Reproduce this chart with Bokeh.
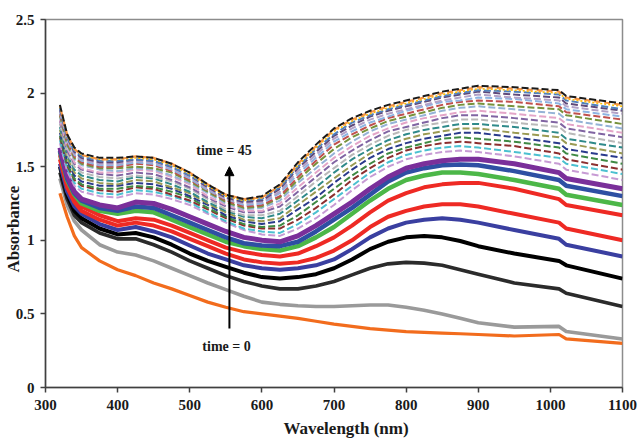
from bokeh.plotting import figure
from bokeh.models import FixedTicker, Label, Arrow, NormalHead, Title
from bokeh.embed import file_html
from bokeh.resources import INLINE

# ---------------- data ----------------
wavelength = [320, 330, 340, 350, 375, 400, 425, 450, 475, 500, 525, 550, 575, 600, 625,
              650, 675, 700, 725, 750, 775, 800, 825, 850, 875, 900, 950, 1012, 1022, 1100]

x_ticks = [300, 400, 500, 600, 700, 800, 900, 1000, 1100]
y_ticks = [0, 0.5, 1, 1.5, 2, 2.5]
y_tick_labels = ["0", "0.5", "1", "1.5", "2", "2.5"]

# solid curves (early times), bottom to top
abs_orange = [1.32, 1.16, 1.03, 0.95, 0.86, 0.80, 0.76, 0.71, 0.67, 0.625, 0.58, 0.545, 0.515, 0.50, 0.485,
              0.47, 0.45, 0.43, 0.415, 0.40, 0.39, 0.38, 0.375, 0.37, 0.365, 0.36, 0.35, 0.36, 0.33, 0.30]
abs_grey = [1.42, 1.24, 1.13, 1.07, 0.97, 0.92, 0.90, 0.86, 0.81, 0.76, 0.71, 0.665, 0.62, 0.58, 0.565,
            0.555, 0.55, 0.55, 0.555, 0.56, 0.56, 0.545, 0.525, 0.50, 0.47, 0.44, 0.41, 0.415, 0.38, 0.33]
abs_darkgrey = [1.46, 1.28, 1.17, 1.12, 1.05, 1.01, 1.01, 0.97, 0.92, 0.86, 0.81, 0.76, 0.72, 0.69, 0.67,
                0.67, 0.69, 0.72, 0.765, 0.81, 0.84, 0.85, 0.845, 0.83, 0.80, 0.77, 0.71, 0.67, 0.64, 0.55]
abs_black = [1.50, 1.31, 1.20, 1.15, 1.08, 1.04, 1.05, 1.02, 0.97, 0.91, 0.86, 0.82, 0.78, 0.75, 0.74,
             0.75, 0.77, 0.81, 0.87, 0.94, 0.99, 1.02, 1.03, 1.02, 0.995, 0.96, 0.91, 0.86, 0.83, 0.74]
abs_blue2 = [1.52, 1.33, 1.23, 1.18, 1.11, 1.07, 1.09, 1.06, 1.02, 0.965, 0.91, 0.87, 0.83, 0.81, 0.80,
             0.81, 0.83, 0.87, 0.94, 1.02, 1.08, 1.12, 1.14, 1.15, 1.14, 1.12, 1.07, 1.01, 0.97, 0.89]
abs_red2 = [1.55, 1.36, 1.26, 1.20, 1.14, 1.10, 1.12, 1.10, 1.06, 1.01, 0.96, 0.91, 0.87, 0.85, 0.84,
            0.85, 0.88, 0.93, 1.00, 1.09, 1.16, 1.20, 1.23, 1.245, 1.245, 1.23, 1.18, 1.12, 1.08, 1.00]
abs_red1 = [1.58, 1.39, 1.29, 1.23, 1.17, 1.13, 1.15, 1.14, 1.10, 1.05, 1.00, 0.95, 0.92, 0.90, 0.89,
            0.91, 0.96, 1.02, 1.10, 1.19, 1.27, 1.32, 1.36, 1.38, 1.39, 1.39, 1.35, 1.28, 1.24, 1.17]
abs_green = [1.60, 1.41, 1.31, 1.25, 1.20, 1.18, 1.20, 1.19, 1.14, 1.09, 1.04, 0.99, 0.96, 0.94, 0.93,
             0.96, 1.02, 1.09, 1.18, 1.27, 1.35, 1.41, 1.44, 1.46, 1.46, 1.45, 1.41, 1.35, 1.31, 1.24]
abs_blue1 = [1.61, 1.42, 1.32, 1.27, 1.22, 1.20, 1.23, 1.22, 1.17, 1.12, 1.07, 1.02, 0.98, 0.965, 0.96,
             0.99, 1.06, 1.14, 1.22, 1.31, 1.40, 1.46, 1.49, 1.51, 1.515, 1.51, 1.47, 1.41, 1.37, 1.30]
abs_purple = [1.63, 1.44, 1.33, 1.28, 1.24, 1.22, 1.26, 1.25, 1.21, 1.16, 1.11, 1.06, 1.02, 1.00, 0.99,
              1.03, 1.10, 1.18, 1.26, 1.35, 1.43, 1.49, 1.52, 1.54, 1.55, 1.55, 1.52, 1.46, 1.42, 1.35]

# dashed curves (later times), bottom to top
dash_01 = [1.66, 1.47, 1.37, 1.33, 1.30, 1.29, 1.32, 1.31, 1.28, 1.24, 1.18, 1.12, 1.07, 1.04, 1.03, 1.08, 1.15, 1.24, 1.34, 1.43, 1.50, 1.55, 1.58, 1.60, 1.61, 1.60, 1.57, 1.52, 1.48, 1.41]
dash_02 = [1.68, 1.49, 1.39, 1.35, 1.32, 1.31, 1.34, 1.33, 1.30, 1.26, 1.19, 1.13, 1.08, 1.06, 1.05, 1.11, 1.19, 1.28, 1.37, 1.46, 1.53, 1.58, 1.61, 1.63, 1.64, 1.63, 1.60, 1.56, 1.52, 1.45]
dash_03 = [1.70, 1.51, 1.41, 1.37, 1.34, 1.33, 1.36, 1.35, 1.31, 1.27, 1.21, 1.15, 1.10, 1.08, 1.08, 1.14, 1.22, 1.31, 1.41, 1.49, 1.56, 1.61, 1.64, 1.66, 1.67, 1.66, 1.64, 1.59, 1.55, 1.48]
dash_04 = [1.71, 1.52, 1.42, 1.38, 1.35, 1.35, 1.37, 1.36, 1.33, 1.29, 1.22, 1.16, 1.11, 1.09, 1.10, 1.17, 1.26, 1.35, 1.44, 1.52, 1.59, 1.63, 1.66, 1.69, 1.70, 1.69, 1.67, 1.63, 1.59, 1.52]
dash_05 = [1.73, 1.54, 1.44, 1.40, 1.37, 1.37, 1.39, 1.38, 1.35, 1.30, 1.24, 1.17, 1.13, 1.11, 1.13, 1.21, 1.29, 1.39, 1.48, 1.56, 1.62, 1.66, 1.69, 1.71, 1.73, 1.73, 1.70, 1.66, 1.62, 1.56]
dash_06 = [1.75, 1.56, 1.46, 1.42, 1.39, 1.38, 1.41, 1.40, 1.36, 1.32, 1.25, 1.19, 1.14, 1.13, 1.15, 1.24, 1.33, 1.42, 1.51, 1.59, 1.65, 1.69, 1.72, 1.74, 1.76, 1.76, 1.73, 1.70, 1.66, 1.59]
dash_07 = [1.77, 1.58, 1.48, 1.44, 1.41, 1.40, 1.43, 1.42, 1.38, 1.33, 1.26, 1.20, 1.16, 1.15, 1.18, 1.27, 1.36, 1.46, 1.55, 1.62, 1.68, 1.72, 1.75, 1.77, 1.79, 1.79, 1.77, 1.73, 1.69, 1.63]
dash_08 = [1.79, 1.59, 1.50, 1.46, 1.43, 1.42, 1.44, 1.43, 1.40, 1.35, 1.28, 1.21, 1.17, 1.17, 1.20, 1.30, 1.40, 1.49, 1.58, 1.65, 1.71, 1.75, 1.78, 1.80, 1.82, 1.82, 1.80, 1.77, 1.73, 1.66]
dash_09 = [1.81, 1.61, 1.52, 1.48, 1.45, 1.44, 1.46, 1.45, 1.41, 1.36, 1.29, 1.23, 1.19, 1.19, 1.23, 1.33, 1.43, 1.53, 1.61, 1.68, 1.74, 1.77, 1.80, 1.83, 1.85, 1.85, 1.83, 1.80, 1.76, 1.70]
dash_10 = [1.82, 1.63, 1.53, 1.49, 1.46, 1.46, 1.48, 1.47, 1.43, 1.38, 1.30, 1.24, 1.20, 1.20, 1.25, 1.36, 1.46, 1.56, 1.64, 1.71, 1.76, 1.80, 1.83, 1.85, 1.87, 1.88, 1.86, 1.83, 1.79, 1.73]
dash_11 = [1.84, 1.64, 1.55, 1.51, 1.48, 1.47, 1.49, 1.48, 1.44, 1.39, 1.32, 1.25, 1.21, 1.22, 1.27, 1.39, 1.49, 1.59, 1.67, 1.74, 1.79, 1.82, 1.85, 1.88, 1.90, 1.91, 1.89, 1.86, 1.82, 1.76]
dash_12 = [1.85, 1.65, 1.56, 1.52, 1.49, 1.49, 1.50, 1.49, 1.46, 1.40, 1.33, 1.26, 1.22, 1.23, 1.29, 1.41, 1.52, 1.62, 1.70, 1.76, 1.81, 1.84, 1.87, 1.90, 1.92, 1.93, 1.91, 1.89, 1.85, 1.79]
dash_13 = [1.86, 1.67, 1.57, 1.53, 1.50, 1.50, 1.52, 1.51, 1.47, 1.41, 1.34, 1.27, 1.23, 1.24, 1.30, 1.43, 1.54, 1.65, 1.72, 1.78, 1.83, 1.86, 1.89, 1.92, 1.94, 1.95, 1.94, 1.91, 1.87, 1.82]
dash_14 = [1.87, 1.68, 1.58, 1.54, 1.51, 1.51, 1.53, 1.52, 1.48, 1.42, 1.34, 1.28, 1.24, 1.25, 1.32, 1.45, 1.56, 1.67, 1.74, 1.80, 1.84, 1.88, 1.91, 1.94, 1.95, 1.97, 1.96, 1.93, 1.89, 1.84]
dash_15 = [1.88, 1.69, 1.59, 1.55, 1.52, 1.52, 1.54, 1.53, 1.49, 1.43, 1.35, 1.28, 1.25, 1.26, 1.33, 1.47, 1.58, 1.69, 1.76, 1.82, 1.86, 1.89, 1.92, 1.95, 1.97, 1.99, 1.97, 1.95, 1.91, 1.86]
dash_16 = [1.89, 1.70, 1.60, 1.56, 1.53, 1.53, 1.55, 1.54, 1.50, 1.44, 1.36, 1.29, 1.26, 1.27, 1.35, 1.49, 1.60, 1.71, 1.78, 1.84, 1.88, 1.91, 1.94, 1.97, 1.99, 2.01, 1.99, 1.97, 1.93, 1.88]
dash_17 = [1.90, 1.70, 1.61, 1.57, 1.54, 1.54, 1.55, 1.54, 1.50, 1.44, 1.37, 1.30, 1.27, 1.28, 1.36, 1.50, 1.62, 1.72, 1.80, 1.85, 1.89, 1.92, 1.95, 1.98, 2.00, 2.02, 2.01, 1.99, 1.95, 1.89]
dash_18 = [1.91, 1.71, 1.62, 1.58, 1.55, 1.55, 1.56, 1.55, 1.51, 1.45, 1.37, 1.30, 1.27, 1.29, 1.37, 1.51, 1.63, 1.74, 1.81, 1.86, 1.90, 1.93, 1.96, 1.99, 2.01, 2.03, 2.02, 2.00, 1.96, 1.91]
dash_19 = [1.91, 1.72, 1.62, 1.58, 1.55, 1.55, 1.57, 1.56, 1.52, 1.46, 1.38, 1.31, 1.28, 1.29, 1.37, 1.52, 1.64, 1.75, 1.82, 1.87, 1.91, 1.94, 1.97, 2.00, 2.02, 2.04, 2.03, 2.01, 1.97, 1.92]
dash_20 = [1.92, 1.72, 1.63, 1.59, 1.56, 1.56, 1.57, 1.56, 1.52, 1.46, 1.38, 1.31, 1.28, 1.30, 1.38, 1.53, 1.65, 1.76, 1.83, 1.88, 1.92, 1.95, 1.98, 2.01, 2.03, 2.05, 2.04, 2.02, 1.98, 1.93]

solid_series = [abs_orange, abs_grey, abs_darkgrey, abs_black, abs_blue2,
                abs_red2, abs_red1, abs_green, abs_blue1, abs_purple]
solid_colors = ["#f26c1d", "#9a9a9a", "#2b2b2b", "#000000", "#3a3fa0",
                "#ee2a24", "#ee2a24", "#4cb748", "#2e4fa3", "#7a2f9a"]
solid_widths = [3.2, 3.6, 3.6, 4, 4, 4, 4, 4.5, 4.5, 5]

dashed_series = [dash_01, dash_02, dash_03, dash_04, dash_05, dash_06, dash_07, dash_08,
                 dash_09, dash_10, dash_11, dash_12, dash_13, dash_14, dash_15, dash_16,
                 dash_17, dash_18, dash_19, dash_20]
dashed_colors = ["#c79bd4", "#4bc0d0", "#8c2f2f", "#3f8a44", "#2a3a8c", "#9a9a52", "#2f8a8a",
                 "#b9b9b9", "#8064a2", "#e3a5c8", "#95b3d7", "#76923c", "#c0504d", "#8db3e2",
                 "#b2a1c7", "#5f497a", "#4f81bd", "#ffc000", "#f79646", "#1a1a1a"]

# ---------------- figure ----------------
font = "Liberation Serif"
p = figure(width=638, height=442, x_range=(300, 1100), y_range=(0, 2.5),
           output_backend="svg", toolbar_location=None,
           min_border_left=45, min_border_right=16, min_border_top=19, min_border_bottom=55)
p.xgrid.visible = False
p.ygrid.visible = False
p.outline_line_color = "#8c8c8c"
p.outline_line_width = 1.5
p.background_fill_color = "white"
p.border_fill_color = "white"

for ys, c, w in zip(solid_series, solid_colors, solid_widths):
    p.line(wavelength, ys, line_color=c, line_width=w, line_join="round")

for ys, c in zip(dashed_series, dashed_colors):
    if c == "#ffc000":
        p.line(wavelength, ys, line_color=c, line_width=1.6, line_dash="2 2")
    elif c == "#f79646":
        p.line(wavelength, ys, line_color=c, line_width=2.2, line_dash="6 4", line_dash_offset=5)
    else:
        p.line(wavelength, ys, line_color=c, line_width=2.0, line_dash="7 3")

for ax in (p.xaxis[0], p.yaxis[0]):
    ax.major_tick_in = 0
    ax.major_tick_out = 5
    ax.minor_tick_line_color = None
    ax.axis_line_color = "#404040"
    ax.axis_line_width = 1.5
    ax.major_tick_line_color = "#404040"
    ax.major_tick_line_width = 1.5
    ax.major_label_text_font = font
    ax.major_label_text_font_style = "bold"
    ax.major_label_text_font_size = "15px"
    ax.major_label_text_color = "#1a1a1a"

p.xaxis.ticker = FixedTicker(ticks=x_ticks)
p.xaxis.major_label_standoff = 7
p.yaxis.ticker = FixedTicker(ticks=y_ticks)
p.yaxis.major_label_standoff = 6
p.yaxis.major_label_overrides = {float(t): s for t, s in zip(y_ticks, y_tick_labels)}

p.add_layout(Title(text="Absorbance", align="left", offset=115, standoff=-21,
                   text_font=font, text_font_style="bold", text_font_size="17px",
                   text_color="#1a1a1a"), "left")
p.add_layout(Title(text="Wavelength (nm)", align="left", offset=238, standoff=9,
                   vertical_align="bottom",
                   text_font=font, text_font_style="bold", text_font_size="17px",
                   text_color="#1a1a1a"), "below")

p.add_layout(Label(x=547.5, y=1.61, text="time = 45", text_font=font, text_font_style="bold",
                   text_font_size="14px", text_align="center", text_baseline="middle",
                   text_color="#1a1a1a"))
p.add_layout(Label(x=551, y=0.28, text="time = 0", text_font=font, text_font_style="bold",
                   text_font_size="14px", text_align="center", text_baseline="middle",
                   text_color="#1a1a1a"))
p.add_layout(Arrow(end=NormalHead(size=9, fill_color="black", line_color="black"),
                   x_start=555, y_start=0.40, x_end=555, y_end=1.50,
                   line_color="black", line_width=2))

open("out.html", "w").write(file_html(p, INLINE))
